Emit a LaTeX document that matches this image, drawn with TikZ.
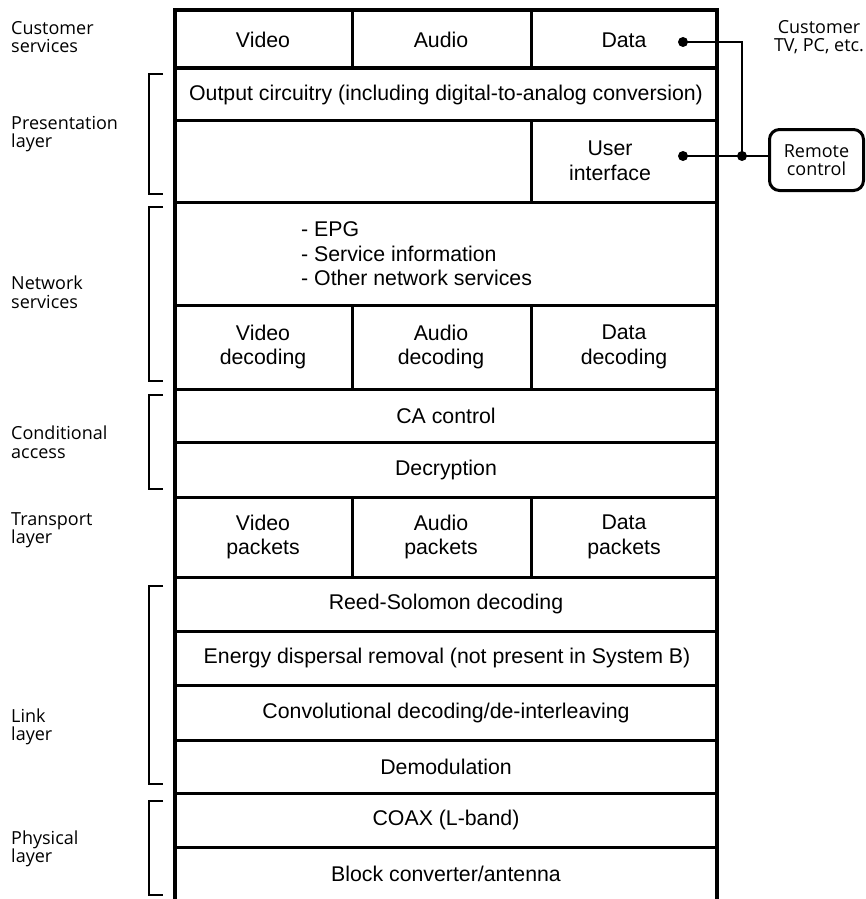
\documentclass[tikz,border=0pt]{standalone}
\usepackage{fontspec}
\setmainfont{Liberation Sans}
\newfontfamily\labfont{Open Sans}
\begin{document}
\begin{tikzpicture}[x=1pt,y=-1pt,
  cell/.style={font=\fontsize{21.3}{24.5}\selectfont, align=center, inner sep=0pt},
  lab/.style={font=\labfont\fontsize{18}{18.5}\selectfont, align=left, anchor=west, inner sep=0pt},
  frame/.style={line width=3.2pt},
  sep/.style={line width=3pt},
  brk/.style={line width=1.6pt},
  conn/.style={line width=1.5pt},
  dot/.style={circle, fill=black, inner sep=0pt, minimum size=10pt},
  remotebox/.style={draw, line width=3pt, rounded corners=10pt, minimum width=94pt, minimum height=61pt, align=center, inner sep=0pt, font=\labfont\fontsize{18}{18.5}\selectfont}]
\useasboundingbox (0,0) rectangle (866,899);
% outer frame
\draw[frame] (175,10) -- (717,10);
\draw[frame] (175,8.4) -- (175,899);
\draw[frame] (717,8.4) -- (717,899);
% horizontal separators
\foreach \yy in {68,120,202,305,389,442,497,577,631,685,740,793,847}
  \draw[sep] (175,\yy) -- (717,\yy);
% column dividers
\foreach \xx in {352,531} {
  \draw[sep] (\xx,10) -- (\xx,68);
  \draw[sep] (\xx,305) -- (\xx,389);
  \draw[sep] (\xx,497) -- (\xx,577);
}
\draw[sep] (531,120) -- (531,202);
% brackets
\foreach \ya/\yb in {74/194,207/381,395/489,586/784,801/895}
  \draw[brk] (163,\ya) -- (149,\ya) -- (149,\yb) -- (163,\yb);
% left labels
\node[lab] (lcs) at (11,37) {Customer\\services};
\node[lab] (lpl) at (11,134) {Presentation\\layer};
\node[lab] (lns) at (11,292) {Network\\services};
\node[lab] (lca) at (11,442) {Conditional\\access};
\node[lab] (ltl) at (11,530) {Transport\\layer};
\node[lab] (lll) at (11,727) {Link\\layer};
\node[lab] (lpy) at (11,849) {Physical\\layer};
% cells
\node[cell] (video) at (263,40) {Video};
\node[cell] (audio) at (441,40) {Audio};
\node[cell] (data) at (624,40) {Data};
\node[cell] (output) at (446,95) {Output circuitry (including digital-to-analog conversion)};
\node[cell] (ui) at (610,161) {User\\interface};
\node[cell, align=left, anchor=west] (epg) at (301,254) {- EPG\\- Service information\\- Other network services};
\node[cell] (vdec) at (263,347) {Video\\decoding};
\node[cell] (adec) at (441,347) {Audio\\decoding};
\node[cell] (ddec) at (624,347) {Data\\decoding};
\node[cell] (ca) at (446,416) {CA control};
\node[cell] (decr) at (446,470) {Decryption};
\node[cell] (vpk) at (263,537) {Video\\packets};
\node[cell] (apk) at (441,537) {Audio\\packets};
\node[cell] (dpk) at (624,537) {Data\\packets};
\node[cell] (rs) at (446,604) {Reed-Solomon decoding};
\node[cell] (ed) at (447,658) {Energy dispersal removal (not present in System B)};
\node[cell] (conv) at (446,713) {Convolutional decoding/de-interleaving};
\node[cell] (demod) at (446,767) {Demodulation};
\node[cell] (coax) at (446,820) {COAX (L-band)};
\node[cell] (block) at (446,874) {Block converter/antenna};
% right side
\node[font=\labfont\fontsize{18}{18.5}\selectfont, align=center, inner sep=0pt] (ctv) at (819,37) {Customer\\TV, PC, etc.};
\node[remotebox] (remote) at (816.5,160) {Remote\\control};
\node[dot] (ddot) at (683,42) {};
\node[dot] (udot) at (683,156) {};
\node[dot] (jdot) at (742,156) {};
\draw[conn] (ddot.center) -| (jdot.center);
\draw[conn] (udot.center) -- (udot.center -| remote.west);
\end{tikzpicture}
\end{document}
